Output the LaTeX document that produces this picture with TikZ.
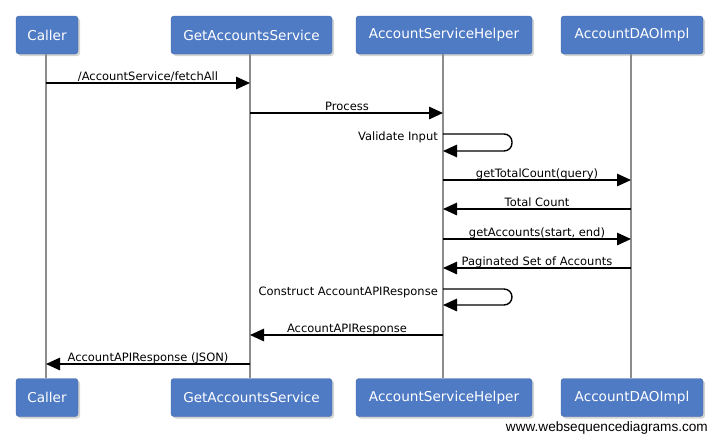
\documentclass[tikz,border=0pt]{standalone}
\usepackage{fontspec}
\setmainfont{DejaVu Sans}
\newfontfamily\wmfont{Liberation Sans}
\usetikzlibrary{arrows.meta,shadows}
\definecolor{boxblue}{RGB}{79,122,196}
\definecolor{lifegray}{RGB}{140,140,140}
\tikzset{
  actor/.style={draw=boxblue!85!black, line width=0.4pt, fill=boxblue, rounded corners=3pt,
    text=white, font=\fontsize{13.6}{16}\selectfont, inner sep=0pt, minimum height=38pt,
    drop shadow={shadow xshift=2pt, shadow yshift=-2pt, opacity=0.35}},
  lifeline/.style={draw=lifegray, line width=1.6pt},
  msg/.style={draw=black, line width=1.4pt, -{Triangle[length=14pt,width=12.5pt]}},
  lbl/.style={font=\fontsize{11.5}{13}\selectfont, inner sep=0pt, anchor=base},
  selflbl/.style={font=\fontsize{11.5}{13}\selectfont, inner sep=0pt, anchor=base east},
}
\begin{document}
\begin{tikzpicture}[x=1pt,y=-1pt]
\useasboundingbox (0,0) rectangle (719,440);
% top actors
\node[actor, minimum width=62pt]  (cT) at (47,35)    {Caller};
\node[actor, minimum width=161pt] (gT) at (251.5,35) {GetAccountsService};
\node[actor, minimum width=176pt] (hT) at (444,35)   {AccountServiceHelper};
\node[actor, minimum width=142pt] (dT) at (632,35)   {AccountDAOImpl};
% bottom actors
\node[actor, minimum width=62pt]  (cB) at (47,397.5)    {Caller};
\node[actor, minimum width=161pt] (gB) at (251.5,397.5) {GetAccountsService};
\node[actor, minimum width=176pt] (hB) at (444,397.5)   {AccountServiceHelper};
\node[actor, minimum width=142pt] (dB) at (632,397.5)   {AccountDAOImpl};
% lifelines
\draw[lifeline] (cT.south -| 46,0) -- (cB.north -| 46,0);
\draw[lifeline] (gT.south -| 250,0) -- (gB.north -| 250,0);
\draw[lifeline] (hT.south -| 443,0) -- (hB.north -| 443,0);
\draw[lifeline] (dT.south -| 631,0) -- (dB.north -| 631,0);
% message anchor points on lifelines
\coordinate (c1) at (46,83);   \coordinate (g1) at (250,83);
\coordinate (g2) at (250,113); \coordinate (h2) at (443,113);
\coordinate (h3a) at (443,134); \coordinate (h3b) at (443,151);
\coordinate (h4) at (443,180); \coordinate (d4) at (631,180);
\coordinate (d5) at (631,209); \coordinate (h5) at (443,209);
\coordinate (h6) at (443,239); \coordinate (d6) at (631,239);
\coordinate (d7) at (631,268); \coordinate (h7) at (443,268);
\coordinate (h8a) at (443,289); \coordinate (h8b) at (443,305);
\coordinate (h9) at (443,335); \coordinate (g9) at (250,335);
\coordinate (g10) at (250,364); \coordinate (c10) at (46,364);
% messages
\draw[msg] (c1) -- (g1);
\node[lbl] (l1) at (148,80.5) {/AccountService/fetchAll};
\draw[msg] (g2) -- (h2);
\node[lbl] (l2) at (347,110.5) {Process};
\draw[msg, rounded corners=8pt] (h3a) -- ++(69,0) -- ++(0,17) -- (h3b);
\node[selflbl] (l3) at (438,140) {Validate Input};
\draw[msg] (h4) -- (d4);
\node[lbl] (l4) at (537,177.5) {getTotalCount(query)};
\draw[msg] (d5) -- (h5);
\node[lbl] (l5) at (537,206.5) {Total Count};
\draw[msg] (h6) -- (d6);
\node[lbl] (l6) at (537,236.5) {getAccounts(start, end)};
\draw[msg] (d7) -- (h7);
\node[lbl] (l7) at (537,265.5) {Paginated Set of Accounts};
\draw[msg, rounded corners=8pt] (h8a) -- ++(69,0) -- ++(0,16) -- (h8b);
\node[selflbl] (l8) at (438,295) {Construct AccountAPIResponse};
\draw[msg] (h9) -- (g9);
\node[lbl] (l9) at (347,332.5) {AccountAPIResponse};
\draw[msg] (g10) -- (c10);
\node[lbl] (l10) at (148,361.5) {AccountAPIResponse (JSON)};
% watermark
\node[font=\wmfont\fontsize{13.6}{15}\selectfont, anchor=base east, inner sep=0pt] (wm) at (708,431) {www.websequencediagrams.com};
\end{tikzpicture}
\end{document}
